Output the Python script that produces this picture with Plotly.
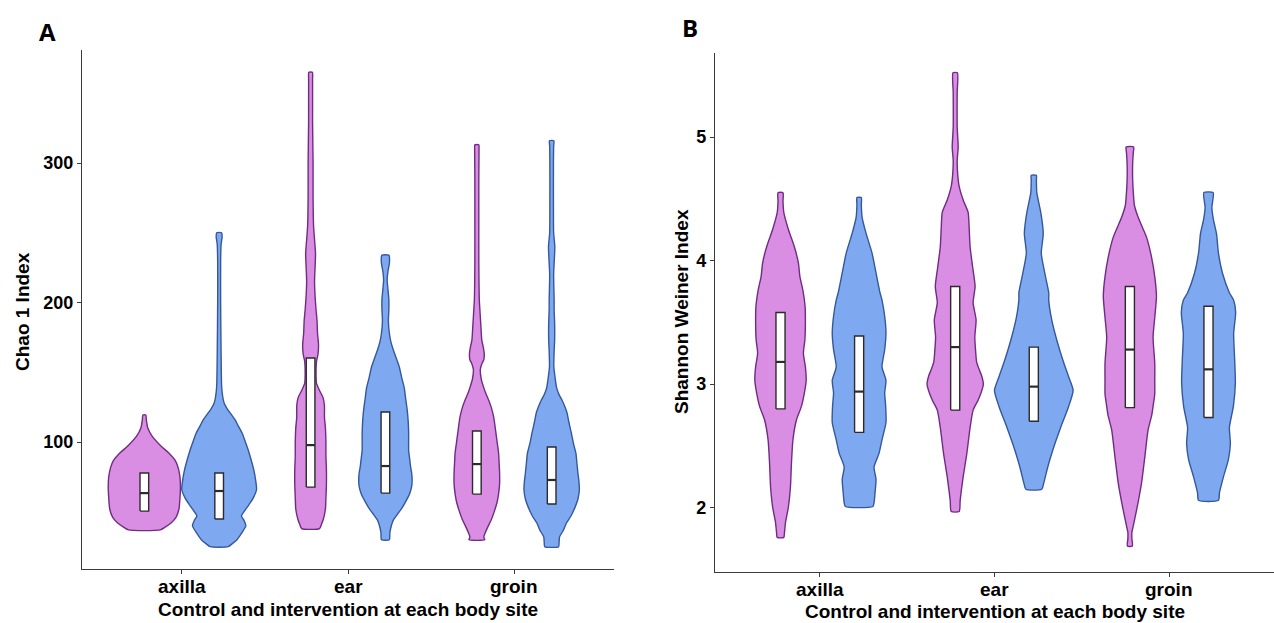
import plotly.graph_objects as go

# ---- data -------------------------------------------------------------
sites = ["axilla", "ear", "groin"]
groups = ["Control", "Intervention"]

# Violin outlines: (index value, relative density) along each distribution.
chao_axilla_control = [(37, 16), (39, 21), (42, 27), (46, 32), (52, 35), (60, 36), (68, 36.5), (75, 36),
                       (82, 34), (87, 31), (92, 25), (97, 17), (104, 8), (110, 3.5), (116, 2), (119.4, 1.5)]
chao_axilla_intervention = [(25, 9), (27, 13), (30, 18), (34, 22), (40, 27), (44, 25), (47, 22.5), (51, 26),
                            (55, 30), (60, 34.5), (66, 37.8), (72, 37), (80, 35), (88, 32), (94, 29.5),
                            (100, 26.5), (106, 23.5), (112, 19), (116, 16), (120, 12), (124, 8), (128, 5),
                            (133, 3.5), (140, 2.5), (160, 2), (200, 1.5), (230, 1.5), (242, 2), (247, 3),
                            (250, 2.5)]
chao_ear_control = [(38, 9), (41, 11), (45, 13), (52, 15), (60, 15.5), (70, 16), (80, 16), (90, 15.5),
                    (100, 15.5), (110, 15), (118, 14), (126, 14), (132, 12.5), (137, 9), (142, 6), (150, 5.5),
                    (158, 6), (163, 7.5), (170, 8), (178, 7), (187, 6.5), (195, 5.5), (205, 4.5), (215, 4),
                    (225, 4.5), (235, 5), (245, 4), (255, 3), (275, 2.5), (300, 2.5), (330, 2), (360, 2),
                    (365, 1.8)]
chao_ear_intervention = [(30, 4), (35, 4.5), (40, 6), (44, 8), (49, 13), (53, 17), (58, 21), (63, 24.5),
                         (68, 26.5), (73, 27), (78, 26.5), (82, 25.5), (88, 24.5), (94, 23.5), (106, 23.5),
                         (115, 23), (123, 22), (131, 20.5), (139, 19), (146, 16.5), (154, 14), (160, 11),
                         (166, 8), (172, 5.5), (178, 4), (187, 3), (195, 3.5), (202, 3.5), (210, 2.5),
                         (216, 1.8), (222, 2.5), (228, 4), (233, 4), (234, 3.5)]
chao_groin_control = [(30, 8), (32, 7), (35, 8.5), (39, 11), (45, 15), (51, 18), (57, 20.5), (63, 22),
                      (70, 23), (78, 23), (85, 22.5), (92, 22), (100, 20.5), (108, 19), (118, 17), (125, 14.5),
                      (130, 12), (135, 9), (139, 7), (145, 4.5), (152, 3.5), (156, 5), (159, 7), (163, 7.5),
                      (168, 6.5), (173, 5), (178, 4.5), (190, 3.5), (202, 2.5), (230, 2), (260, 2), (290, 2),
                      (310, 2.2), (313, 2)]
chao_groin_intervention = [(25, 7), (28, 7.5), (32, 8), (37, 12), (42, 15), (47, 19.5), (53, 23.5),
                           (59, 26.5), (66, 28), (72, 27.5), (78, 26.5), (85, 25.5), (92, 24.5), (99, 22),
                           (106, 20), (114, 17.5), (121, 15.5), (126, 13), (130, 10.5), (134, 7.5), (139, 5),
                           (146, 3.5), (154, 2.2), (165, 2.5), (173, 3), (185, 3), (195, 2.5), (202, 2.5),
                           (220, 2), (240, 3.2), (250, 2), (270, 1.8), (300, 1.8), (312, 2), (316, 2.2)]

shannon_axilla_control = [(1.76, 3.3), (1.80, 4), (1.88, 5), (2.01, 8), (2.17, 10), (2.36, 11), (2.55, 12.5),
                          (2.71, 16), (2.82, 21), (2.93, 24), (3.03, 25.8), (3.14, 25), (3.25, 23),
                          (3.36, 24.5), (3.49, 25), (3.63, 24.7), (3.76, 22.5), (3.87, 19.5), (3.98, 18),
                          (4.11, 14), (4.25, 8), (4.39, 3.3), (4.48, 2.5), (4.55, 2.5)]
shannon_axilla_intervention = [(2.01, 13.8), (2.04, 15), (2.12, 16), (2.23, 17), (2.33, 15), (2.44, 20),
                               (2.55, 23), (2.69, 27), (2.82, 26.7), (2.93, 25.7), (3.03, 27), (3.14, 23),
                               (3.28, 25.7), (3.41, 27), (3.55, 25.7), (3.68, 23), (3.74, 21), (3.90, 17),
                               (4.06, 13), (4.22, 7), (4.35, 3), (4.45, 2.2), (4.51, 2.2)]
shannon_ear_control = [(1.97, 4), (2.06, 5), (2.25, 8), (2.44, 11.7), (2.65, 15), (2.79, 18), (2.87, 23),
                       (2.93, 26), (3.00, 28.3), (3.07, 26.5), (3.12, 24), (3.18, 21.5), (3.25, 20.7),
                       (3.38, 19.7), (3.52, 21), (3.66, 18), (3.79, 20), (3.95, 17.5), (4.11, 15), (4.27, 14),
                       (4.39, 13), (4.49, 8), (4.60, 4), (4.70, 2.5), (4.81, 2), (4.92, 3), (5.08, 2),
                       (5.36, 2), (5.52, 2.2)]
shannon_ear_intervention = [(2.15, 8), (2.20, 10), (2.33, 14), (2.49, 20), (2.65, 27), (2.82, 35),
                            (2.95, 39.5), (3.06, 35), (3.20, 29), (3.36, 23), (3.52, 18), (3.68, 15),
                            (3.74, 15), (3.90, 11), (4.06, 7.5), (4.22, 9.5), (4.39, 7), (4.55, 3),
                            (4.65, 2.6), (4.69, 2.6)]
shannon_groin_control = [(1.69, 2.5), (1.75, 2), (1.80, 2), (1.85, 3.3), (1.98, 6.7), (2.20, 11.7),
                         (2.41, 15), (2.63, 18.3), (2.75, 22), (2.82, 23.3), (2.92, 25), (3.01, 25),
                         (3.17, 25), (3.38, 23.3), (3.54, 25), (3.71, 26.7), (3.87, 25), (4.03, 21.7),
                         (4.19, 16.7), (4.35, 8.3), (4.45, 4.5), (4.51, 3.8), (4.65, 2.8), (4.79, 2.8),
                         (4.88, 3.5), (4.92, 3.8)]
shannon_groin_intervention = [(2.06, 10), (2.12, 11), (2.25, 15), (2.39, 20), (2.52, 22), (2.65, 21),
                              (2.82, 25), (3.01, 27), (3.20, 26.3), (3.41, 25.3), (3.58, 27.3), (3.68, 25.3),
                              (3.74, 21), (3.90, 14), (4.06, 10), (4.22, 8), (4.33, 5), (4.43, 3.4),
                              (4.55, 4.7)]

# Box summaries, ordered axilla/ear/groin; control first, then intervention.
chao_q1 = [[50.5, 67.7, 62.7], [44.8, 63.4, 55.6]]
chao_median = [[63.4, 97.8, 84.2], [64.9, 82.8, 72.8]]
chao_q3 = [[77.8, 160.2, 107.9], [77.8, 121.5, 96.4]]

shannon_q1 = [[2.80, 2.79, 2.81], [2.61, 2.70, 2.73]]
shannon_median = [[3.18, 3.30, 3.28], [2.94, 2.98, 3.12]]
shannon_q3 = [[3.58, 3.79, 3.79], [3.39, 3.30, 3.63]]

chao_ticks = [100, 200, 300]
shannon_ticks = [2, 3, 4, 5]

# ---- styling ----------------------------------------------------------
FILL = ["#D98DE3", "#7EA9F0"]
EDGE = ["#6E2D80", "#34589A"]
DODGE = 0.225          # group offset from the category centre
MAX_HALF = 0.225       # half-width of the widest violin in a panel
BOX_HALF = 0.026
BOX_EDGE = "#2b2b2b"
AXIS_COLOR = "#3a3a3a"
FONT = "Liberation Sans, Arial, sans-serif"
W, H = 1274, 623

fig = go.Figure()


def add_panel(profiles, q1, med, q3, xref, yref):
    peak = max(d for prof in profiles for row in prof for _, d in row)
    scale = MAX_HALF / peak
    # violins first
    for g in range(2):
        for i in range(3):
            prof = profiles[g][i]
            centre = i + 1 + (g - 0.5) * 2 * DODGE
            ys = [v for v, _ in prof]
            hw = [d * scale for _, d in prof]
            xs = [centre + w for w in hw] + [centre - w for w in reversed(hw)]
            yy = ys + list(reversed(ys))
            fig.add_trace(go.Scatter(
                x=xs + [xs[0]], y=yy + [yy[0]], mode="lines", fill="toself",
                fillcolor=FILL[g], line=dict(color=EDGE[g], width=1.4, shape="spline", smoothing=0.6),
                xaxis=xref, yaxis=yref, hoverinfo="skip", showlegend=False, name=groups[g]))
    # narrow white boxes (interquartile range + median) on top
    for g in range(2):
        for i in range(3):
            centre = i + 1 + (g - 0.5) * 2 * DODGE
            lo, hi = centre - BOX_HALF, centre + BOX_HALF
            fig.add_trace(go.Scatter(
                x=[lo, hi, hi, lo, lo], y=[q1[g][i], q1[g][i], q3[g][i], q3[g][i], q1[g][i]],
                mode="lines", fill="toself", fillcolor="white", line=dict(color=BOX_EDGE, width=1.4),
                xaxis=xref, yaxis=yref, hoverinfo="skip", showlegend=False, name=groups[g]))
            fig.add_trace(go.Scatter(
                x=[lo, hi], y=[med[g][i], med[g][i]], mode="lines",
                line=dict(color=BOX_EDGE, width=2.2),
                xaxis=xref, yaxis=yref, hoverinfo="skip", showlegend=False, name=groups[g]))


add_panel([[chao_axilla_control, chao_ear_control, chao_groin_control],
           [chao_axilla_intervention, chao_ear_intervention, chao_groin_intervention]],
          chao_q1, chao_median, chao_q3, "x", "y")
add_panel([[shannon_axilla_control, shannon_ear_control, shannon_groin_control],
           [shannon_axilla_intervention, shannon_ear_intervention, shannon_groin_intervention]],
          shannon_q1, shannon_median, shannon_q3, "x2", "y2")

xaxis_common = dict(range=[0.4, 3.6], tickvals=[1, 2, 3], showticklabels=False, showline=True,
                    linecolor=AXIS_COLOR, linewidth=1.2, ticks="outside", ticklen=4,
                    tickcolor=AXIS_COLOR, showgrid=False, zeroline=False, fixedrange=True)
yaxis_common = dict(showline=True, linecolor=AXIS_COLOR, linewidth=1.2, ticks="outside", ticklen=4,
                    tickcolor=AXIS_COLOR, showgrid=False, zeroline=False, fixedrange=True,
                    tickfont=dict(family=FONT, size=18, color="black", weight="bold"))

fig.update_layout(
    width=W, height=H, margin=dict(l=0, r=0, t=0, b=0),
    paper_bgcolor="white", plot_bgcolor="white", showlegend=False,
    xaxis=dict(domain=[82 / W, 614 / W], anchor="y", **xaxis_common),
    yaxis=dict(domain=[1 - 569 / H, 1 - 50 / H], anchor="x", range=[9, 381], tickvals=chao_ticks,
               **yaxis_common),
    xaxis2=dict(domain=[715 / W, 1.0], anchor="y2", **xaxis_common),
    yaxis2=dict(domain=[1 - 572 / H, 1 - 53 / H], anchor="x2", range=[1.48, 5.68], tickvals=shannon_ticks,
                **yaxis_common),
)

# Category labels under each panel's x axis
cat_font = dict(family=FONT, size=19, color="black", weight="bold")
for xr, ypx in (("x", 586), ("x2", 589)):
    for i, s in enumerate(sites):
        fig.add_annotation(x=i + 1, xref=xr, y=1 - ypx / H, yref="paper", text=s, showarrow=False,
                           xanchor="center", yanchor="middle", font=cat_font)

title_font = dict(family=FONT, size=19, color="black", weight="bold")
notes = [
    dict(text="A", x=47 / W, y=1 - 32 / H, font=dict(family="Open Sans, sans-serif", size=24,
                                                  color="black", weight="bold")),
    dict(text="B", x=690 / W, y=1 - 27 / H, font=dict(family="Open Sans, sans-serif", size=24,
                                                   color="black", weight="bold")),
    dict(text="Chao 1 Index", x=22 / W, y=1 - 312 / H, textangle=-90, font=title_font),
    dict(text="Shannon Weiner Index", x=681 / W, y=1 - 312 / H, textangle=-90, font=title_font),
    dict(text="Control and intervention at each body site", x=348 / W, y=1 - 609 / H, font=title_font),
    dict(text="Control and intervention at each body site", x=995 / W, y=1 - 611 / H, font=title_font),
]
for n in notes:
    fig.add_annotation(xref="paper", yref="paper", showarrow=False, xanchor="center", yanchor="middle", **n)

fig.write_html("out.html")
